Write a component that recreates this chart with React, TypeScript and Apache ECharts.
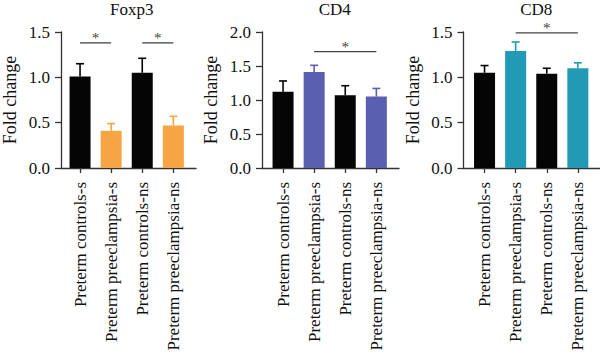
import React, { useEffect, useRef } from "react";
import * as echarts from "echarts";

const categories = [
  "Preterm controls-s",
  "Preterm preeclampsia-s",
  "Preterm controls-ns",
  "Preterm preeclampsia-ns",
];

const titles = ["Foxp3", "CD4", "CD8"];

const foxp3Mean = [1.01, 0.41, 1.05, 0.47];
const foxp3Upper = [1.15, 0.49, 1.21, 0.57];
const cd4Mean = [1.12, 1.41, 1.07, 1.05];
const cd4Upper = [1.28, 1.51, 1.21, 1.17];
const cd8Mean = [1.05, 1.29, 1.04, 1.1];
const cd8Upper = [1.13, 1.39, 1.1, 1.16];

const yMaxes = [1.5, 2.0, 1.5];
const yInterval = 0.5;

// significance brackets: [fromCategoryPos, toCategoryPos, yValue]
const foxp3Sig = [
  [0.17, 1.37, 1.38],
  [2.0, 3.17, 1.38],
];
const cd4Sig = [[1.05, 3.1, 1.71]];
const cd8Sig = [[1.06, 3.1, 1.49]];

const accentColors = ["#f7a445", "#5b5fb0", "#2299b5"];
const darkColor = "#050505";

const FONT = "Liberation Serif";
const AXIS_COLOR = "#333333";

export default function App() {
  const ref = useRef<HTMLDivElement>(null);

  useEffect(() => {
    document.body.style.margin = "0";
    if (!ref.current) return;
    const chart = echarts.init(ref.current, undefined, { renderer: "svg" });

    const means = [foxp3Mean, cd4Mean, cd8Mean];
    const uppers = [foxp3Upper, cd4Upper, cd8Upper];
    const sigs = [foxp3Sig, cd4Sig, cd8Sig];
    const axisLefts = [59, 262, 463.5];
    const top = 32;
    const height = 136;

    const grids: any[] = [];
    const xAxes: any[] = [];
    const yAxes: any[] = [];
    const series: any[] = [];
    const titleArr: any[] = [];

    axisLefts.forEach((L, p) => {
      const gA = p * 2;
      const gB = p * 2 + 1;
      grids.push({ left: L, top, width: 137, height });
      grids.push({ left: L + 5.5, top, width: 124.4, height });

      // frame axes
      xAxes.push({
        gridIndex: gA,
        type: "value",
        min: 0,
        max: 1,
        axisLine: { show: true, lineStyle: { color: AXIS_COLOR, width: 1.3 } },
        axisTick: { show: false },
        axisLabel: { show: false },
        splitLine: { show: false },
      });
      yAxes.push({
        gridIndex: gA,
        type: "value",
        min: 0,
        max: yMaxes[p],
        interval: yInterval,
        name: "Fold change",
        nameLocation: "middle",
        nameGap: 42,
        nameTextStyle: { fontFamily: FONT, fontSize: 18, color: "#111" },
        axisLine: { show: true, lineStyle: { color: AXIS_COLOR, width: 1.3 } },
        axisTick: { show: true, length: 6, lineStyle: { color: AXIS_COLOR, width: 1.3 } },
        axisLabel: {
          margin: 11,
          fontFamily: FONT,
          fontSize: 17,
          color: "#111",
          formatter: (v: number) => v.toFixed(1),
        },
        splitLine: { show: false },
      });

      // data axes
      xAxes.push({
        gridIndex: gB,
        type: "category",
        data: categories,
        axisLine: { show: false },
        axisTick: {
          show: true,
          alignWithLabel: true,
          length: 5,
          lineStyle: { color: AXIS_COLOR, width: 1.3 },
        },
        axisLabel: {
          interval: 0,
          rotate: 90,
          margin: 14,
          fontFamily: FONT,
          fontSize: 17,
          color: "#111",
        },
        splitLine: { show: false },
      });
      yAxes.push({
        gridIndex: gB,
        type: "value",
        min: 0,
        max: yMaxes[p],
        interval: yInterval,
        show: false,
        splitLine: { show: false },
      });

      const color = accentColors[p];
      const colorFor = (i: number) => (i % 2 === 0 ? darkColor : color);

      series.push({
        type: "bar",
        xAxisIndex: gB,
        yAxisIndex: gB,
        barWidth: 21,
        data: means[p].map((v, i) => ({ value: v, itemStyle: { color: colorFor(i) } })),
      });

      series.push({
        type: "custom",
        xAxisIndex: gB,
        yAxisIndex: gB,
        clip: false,
        data: means[p].map((v, i) => [i, v, uppers[p][i]]),
        renderItem: (params: any, api: any) => {
          const i = api.value(0);
          const lo = api.coord([i, api.value(1)]);
          const hi = api.coord([i, api.value(2)]);
          const c = colorFor(params.dataIndex);
          const hw = 4;
          return {
            type: "group",
            children: [
              {
                type: "line",
                shape: { x1: lo[0], y1: lo[1], x2: hi[0], y2: hi[1] },
                style: { stroke: c, lineWidth: 1.6 },
              },
              {
                type: "line",
                shape: { x1: hi[0] - hw, y1: hi[1], x2: hi[0] + hw, y2: hi[1] },
                style: { stroke: c, lineWidth: 1.6 },
              },
            ],
          };
        },
      });

      series.push({
        type: "custom",
        xAxisIndex: gB,
        yAxisIndex: gB,
        clip: false,
        data: sigs[p],
        renderItem: (params: any, api: any) => {
          const a = api.coord([api.value(0), api.value(2)]);
          const b = api.coord([api.value(1), api.value(2)]);
          return {
            type: "group",
            children: [
              {
                type: "line",
                shape: { x1: a[0], y1: a[1], x2: b[0], y2: b[1] },
                style: { stroke: "#444", lineWidth: 1.3 },
              },
              {
                type: "text",
                x: (a[0] + b[0]) / 2,
                y: a[1] - 5,
                style: {
                  text: "*",
                  fontFamily: FONT,
                  fontSize: 15,
                  lineHeight: 10,
                  fill: "#444",
                  align: "center",
                  verticalAlign: "middle",
                },
              },
            ],
          };
        },
      });

      titleArr.push({
        text: titles[p],
        left: L + 5.5 + 62.2,
        top: -4,
        textAlign: "center",
        textStyle: { fontFamily: FONT, fontSize: 17, fontWeight: "normal", color: "#111" },
      });
    });

    chart.setOption({
      animation: false,
      backgroundColor: "#ffffff",
      title: titleArr,
      grid: grids,
      xAxis: xAxes,
      yAxis: yAxes,
      series,
    });

    return () => chart.dispose();
  }, []);

  return (
    <div
      ref={ref}
      style={{ position: "absolute", left: 0, top: 0, width: 600, height: 361 }}
    />
  );
}
